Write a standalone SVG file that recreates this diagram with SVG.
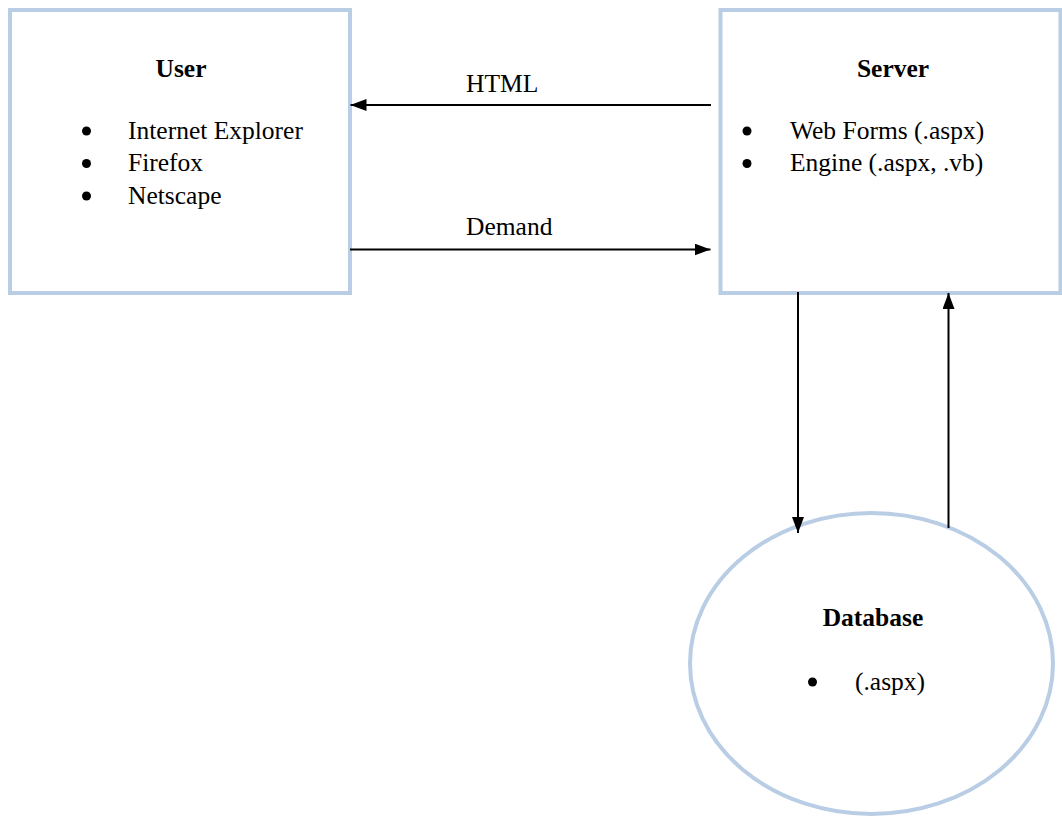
<svg xmlns="http://www.w3.org/2000/svg" width="1062" height="818" viewBox="0 0 1062 818">
  <style>
    .box { fill: #ffffff; stroke: #b9cde5; stroke-width: 4; }
    .t { font-family: "Liberation Serif", "Times New Roman", serif; font-size: 25.5px; fill: #000000; }
    .b { font-weight: bold; text-anchor: middle; }
    .dot { fill: #000000; }
    .link { stroke: #000000; stroke-width: 2; fill: none; marker-end: url(#head); }
  </style>
  <defs>
    <marker id="head" viewBox="0 0 16 12" refX="16" refY="6" markerWidth="16" markerHeight="12" markerUnits="userSpaceOnUse" orient="auto">
      <path d="M0,0 L16,6 L0,12 Z" fill="#000000"/>
    </marker>
  </defs>
  <rect width="1062" height="818" fill="#ffffff"/>

  <g id="user">
    <rect class="box" x="10" y="10" width="340" height="283"/>
    <text class="t b" x="181" y="77">User</text>
    <circle class="dot" cx="86.5" cy="131" r="4.5"/>
    <text class="t" x="128" y="138.5">Internet Explorer</text>
    <circle class="dot" cx="86.5" cy="163.5" r="4.5"/>
    <text class="t" x="128" y="171">Firefox</text>
    <circle class="dot" cx="86.5" cy="196" r="4.5"/>
    <text class="t" x="128" y="203.5">Netscape</text>
  </g>

  <g id="server">
    <rect class="box" x="720.5" y="10" width="340" height="283"/>
    <text class="t b" x="893" y="77">Server</text>
    <circle class="dot" cx="747" cy="131" r="4.5"/>
    <text class="t" x="790" y="138.5">Web Forms (.aspx)</text>
    <circle class="dot" cx="747" cy="163.5" r="4.5"/>
    <text class="t" x="790" y="171">Engine (.aspx, .vb)</text>
  </g>

  <g id="database">
    <ellipse class="box" cx="871.5" cy="663.5" rx="181.5" ry="150.5"/>
    <text class="t b" x="873" y="626">Database</text>
    <circle class="dot" cx="812.5" cy="682" r="4.5"/>
    <text class="t" x="855" y="690">(.aspx)</text>
  </g>

  <g id="connectors">
    <line class="link" x1="711" y1="105" x2="350.5" y2="105"/>
    <text class="t" x="466" y="92">HTML</text>
    <line class="link" x1="350" y1="249.5" x2="710.5" y2="249.5"/>
    <text class="t" x="466" y="235">Demand</text>
    <line class="link" x1="798" y1="292" x2="798" y2="533"/>
    <line class="link" x1="948.5" y1="528" x2="948.5" y2="293"/>
  </g>
</svg>
